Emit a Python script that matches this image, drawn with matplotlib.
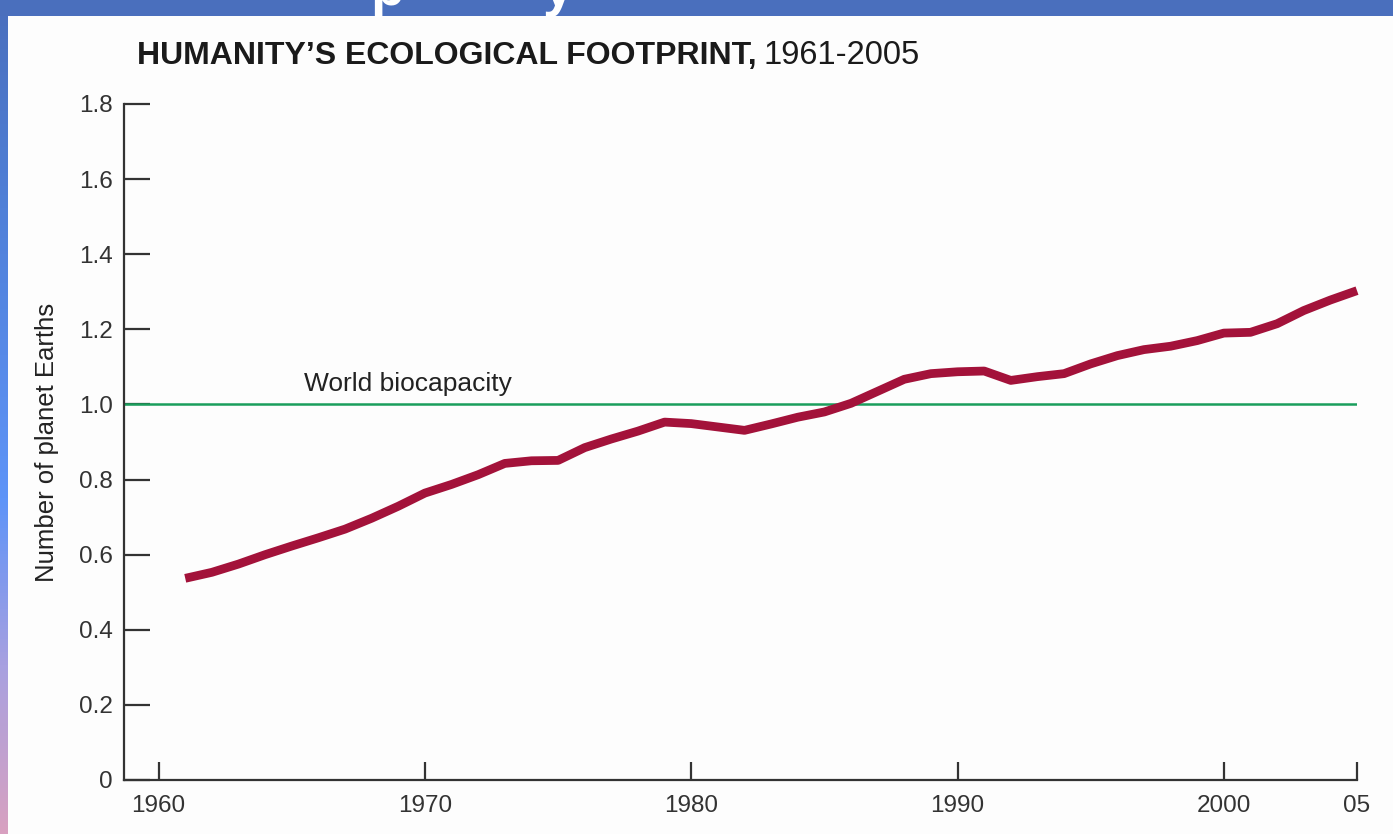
import matplotlib
matplotlib.use("Agg")
import matplotlib.pyplot as plt
import numpy as np
from matplotlib.colors import LinearSegmentedColormap
from matplotlib import font_manager

years = list(range(1961, 2006))
footprint = [0.537, 0.553, 0.575, 0.600, 0.623, 0.645, 0.668, 0.697, 0.729, 0.764,
             0.787, 0.813, 0.843, 0.850, 0.851, 0.885, 0.908, 0.929, 0.953, 0.949,
             0.940, 0.931, 0.948, 0.966, 0.980, 1.003, 1.035, 1.067, 1.082, 1.087,
             1.089, 1.064, 1.074, 1.082, 1.108, 1.130, 1.146, 1.155, 1.170, 1.190,
             1.192, 1.215, 1.250, 1.278, 1.303]
biocapacity = 1.0
xticks = [1960, 1970, 1980, 1990, 2000, 2005]
xticklabels = ["1960", "1970", "1980", "1990", "2000", "05"]
yticks = [0, 0.2, 0.4, 0.6, 0.8, 1.0, 1.2, 1.4, 1.6, 1.8]
yticklabels = ["0", "0.2", "0.4", "0.6", "0.8", "1.0", "1.2", "1.4", "1.6", "1.8"]

names = {f.name for f in font_manager.fontManager.ttflist}
narrow = "Liberation Sans Narrow" if "Liberation Sans Narrow" in names else "Liberation Sans"
plt.rcParams["font.family"] = ["Liberation Sans", "DejaVu Sans"]

W, H = 1393, 834
fig = plt.figure(figsize=(W / 100, H / 100), dpi=100)
fig.patch.set_facecolor("#fdfdfd")

# slide frame: left gradient strip and top band
cmap = LinearSegmentedColormap.from_list(
    "side", [(0.0, "#4a6fbd"), (0.25, "#5080d8"), (0.6, "#5e94f8"),
             (0.8, "#a8a0e0"), (1.0, "#d8a0c0")])
sax = fig.add_axes([0, 0, 8 / W, 1])
sax.imshow(np.linspace(0, 1, 256).reshape(-1, 1), aspect="auto", cmap=cmap)
sax.set_axis_off()
tax = fig.add_axes([0, 1 - 16 / H, 1, 16 / H])
tax.set_facecolor("#4a6fbd")
tax.set_xticks([]); tax.set_yticks([])
for s in tax.spines.values():
    s.set_visible(False)
fig.text(370 / W, 1 - 5 / H, "p", color="white", fontsize=40, fontweight="bold",
         va="baseline", ha="left")
fig.text(543 / W, 1 - 5 / H, "y", color="white", fontsize=40, fontweight="bold",
         va="baseline", ha="left")

ax = fig.add_axes([124 / W, 1 - 780 / H, (1357 - 124) / W, (780 - 104) / H])
ax.set_facecolor("#fdfdfd")
ax.set_xlim(1958.7, 2005)
ax.set_ylim(0, 1.8)

ax.axhline(biocapacity, color="#1a9e5c", lw=1.8, zorder=2)
ax.plot(years, footprint, color="#a3123a", lw=6.3, solid_capstyle="butt",
        solid_joinstyle="round", zorder=3, clip_on=False)
ax.text(1965.45, biocapacity + 0.022, "World biocapacity", fontsize=19,
        color="#222222", ha="left", va="bottom")

for s in ["top", "right"]:
    ax.spines[s].set_visible(False)
for s in ["left", "bottom"]:
    ax.spines[s].set_color("#333333")
    ax.spines[s].set_linewidth(1.6)

ax.set_xticks(xticks)
ax.set_xticklabels(xticklabels)
ax.set_yticks(yticks)
ax.set_yticklabels(yticklabels)
ax.tick_params(axis="y", direction="in", length=19, width=1.6, color="#333333",
               labelsize=17.5, labelcolor="#333333", pad=8)
ax.tick_params(axis="x", direction="in", length=13, width=1.6, color="#333333",
               labelsize=17.5, labelcolor="#333333", pad=11)
ax.set_ylabel("Number of planet Earths", fontsize=18.5, color="#222222")
ax.yaxis.set_label_coords(-0.053, 0.5)

t1 = fig.text(137 / W, 1 - 56 / H, "HUMANITY\u2019S ECOLOGICAL FOOTPRINT,",
              family=[narrow, "DejaVu Sans"], fontweight="bold", fontsize=23,
              color="#1a1a1a", va="center", ha="left")
fig.canvas.draw()
bb = t1.get_window_extent()
fig.text(bb.x1 / W + 7 / W, 1 - 56 / H, "1961-2005", family=[narrow, "DejaVu Sans"],
         fontsize=23.5, color="#1a1a1a", va="center", ha="left")

fig.savefig("out.png", dpi=100, facecolor=fig.get_facecolor())
